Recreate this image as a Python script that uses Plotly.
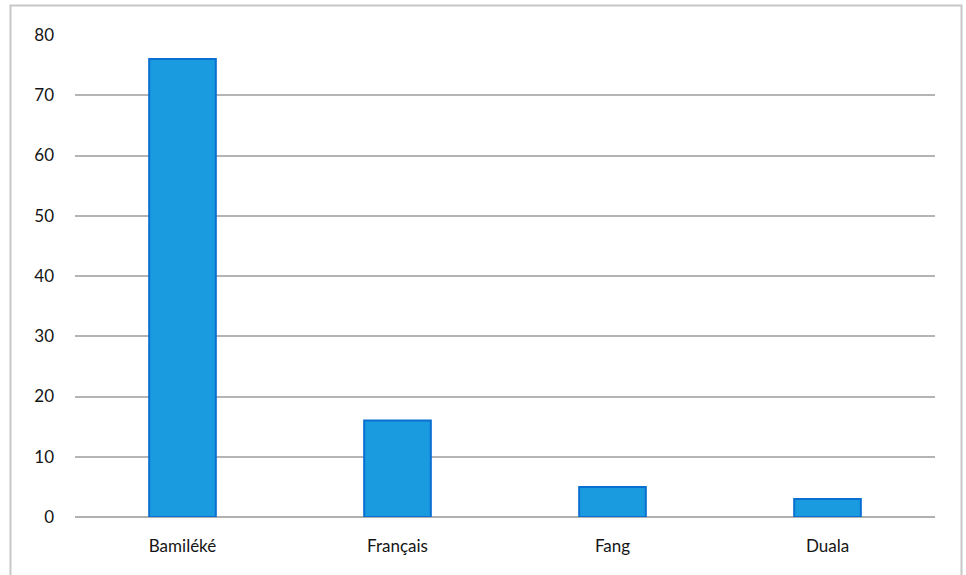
import plotly.graph_objects as go

categories = ["Bamiléké", "Français", "Fang", "Duala"]
values = [76, 16, 5, 3]
y_ticks = [0, 10, 20, 30, 40, 50, 60, 70, 80]

W, H = 966, 575
L, R, T, B = 75, 31, 35, 58
pw, ph = W - L - R, H - T - B

fig = go.Figure(go.Bar(
    x=categories, y=values, width=0.31,
    marker=dict(color="#1a9be0", line=dict(color="#0a6fd0", width=2)),
))

def px2paper_x(px):
    return (px - L) / pw

def px2paper_y(py):
    return (H - B - py) / ph

fig.add_shape(type="rect", xref="paper", yref="paper",
              x0=px2paper_x(10.5), x1=px2paper_x(961.5),
              y0=px2paper_y(590), y1=px2paper_y(5.5),
              line=dict(color="#c8c8c8", width=2), fillcolor="rgba(0,0,0,0)", layer="below")

fig.update_layout(
    width=W, height=H,
    margin=dict(l=L, r=R, t=T, b=B),
    paper_bgcolor="white", plot_bgcolor="white",
    font=dict(family="Lato, Open Sans, sans-serif", size=17, color="#151515"),
    showlegend=False,
    bargap=0.69,
)
fig.update_yaxes(range=[0, 80], tickvals=y_ticks, showgrid=True, gridcolor="#b4b4b4", gridwidth=2,
                 zeroline=True, zerolinecolor="#b0b0b0", zerolinewidth=2,
                 ticks="", ticklabelstandoff=20, showline=False, fixedrange=True)
fig.update_xaxes(showgrid=False, ticks="", ticklabelstandoff=17, showline=False)

fig.write_html("out.html")
